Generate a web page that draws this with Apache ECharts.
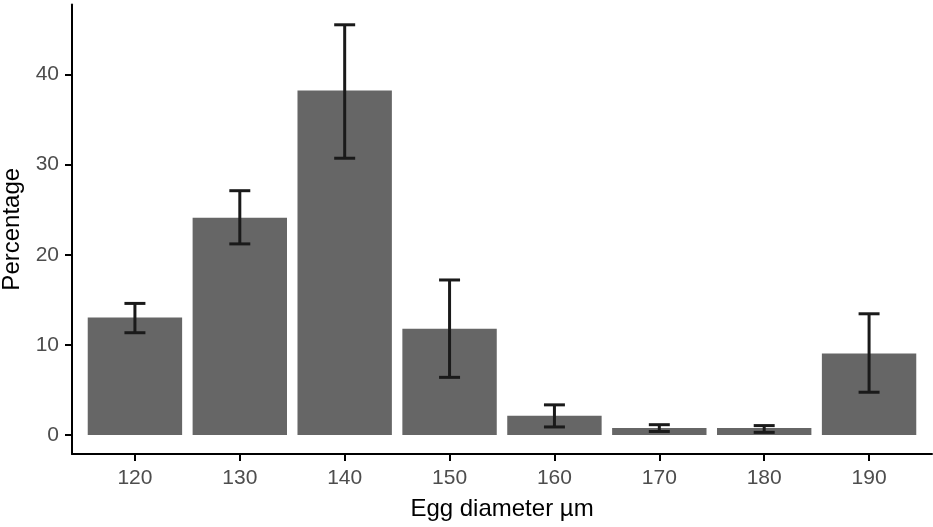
<!DOCTYPE html>
<html>
<head>
<meta charset="utf-8">
<script src="https://cdn.jsdelivr.net/npm/echarts@6/dist/echarts.min.js"></script>
<style>
  html, body { margin: 0; padding: 0; background: #fff; }
  #chart { width: 933px; height: 527px; }
</style>
</head>
<body>
<div id="chart"></div>
<script>
// egg diameter classes and the mean percentage with its error range
var categories = ['120', '130', '140', '150', '160', '170', '180', '190'];
var percentage = [13.05, 24.1, 38.2, 11.8, 2.15, 0.78, 0.78, 9.05];
var errLower = [11.35, 21.2, 30.7, 6.4, 0.9, 0.4, 0.3, 4.75];
var errUpper = [14.6, 27.1, 45.5, 17.2, 3.35, 1.15, 1.05, 13.45];
var yTicks = [0, 10, 20, 30, 40];

var xPos = categories.map(function (c, i) { return i + 1; });

var barData = xPos.map(function (x, i) { return [x, percentage[i]]; });
var errData = xPos.map(function (x, i) { return [x, errLower[i], errUpper[i]]; });

var myChart = echarts.init(document.getElementById('chart'));

var tickFont = { fontFamily: 'Liberation Sans', fontSize: 21, color: '#4d4d4d' };

var option = {
    backgroundColor: '#fff',
    animation: false,
    grid: { left: 72, right: 1, top: 4.5, bottom: 73, outerBoundsMode: 'none', containLabel: false },
    xAxis: {
        type: 'value',
        min: 0.4,
        max: 8.6,
        name: 'Egg diameter µm',
        nameLocation: 'middle',
        nameGap: 43,
        nameTextStyle: { fontFamily: 'Liberation Sans', fontSize: 24, color: '#000' },
        axisLine: { show: true, onZero: false, lineStyle: { color: '#000', width: 2 } },
        axisTick: { show: true, length: 7, customValues: xPos, lineStyle: { color: '#000', width: 2 } },
        axisLabel: {
            customValues: xPos,
            margin: 14,
            fontFamily: tickFont.fontFamily,
            fontSize: tickFont.fontSize,
            color: tickFont.color,
            formatter: function (v) { return categories[Math.round(v) - 1]; }
        },
        splitLine: { show: false }
    },
    yAxis: {
        type: 'value',
        min: -2.1,
        max: 47.75,
        name: 'Percentage',
        nameLocation: 'middle',
        nameGap: 46,
        nameTextStyle: { fontFamily: 'Liberation Sans', fontSize: 24, color: '#000' },
        axisLine: { show: true, onZero: false, lineStyle: { color: '#000', width: 2 } },
        axisTick: { show: true, length: 7, customValues: yTicks, lineStyle: { color: '#000', width: 2 } },
        axisLabel: {
            customValues: yTicks,
            margin: 13,
            fontFamily: tickFont.fontFamily,
            fontSize: tickFont.fontSize,
            color: tickFont.color
        },
        splitLine: { show: false }
    },
    series: [{
        name: 'Percentage',
        type: 'custom',
        data: barData,
        renderItem: function (params, api) {
            var x = api.value(0);
            var y = api.value(1);
            var p0 = api.coord([x - 0.45, y]);
            var p1 = api.coord([x + 0.45, 0]);
            return {
                type: 'rect',
                shape: { x: p0[0], y: p0[1], width: p1[0] - p0[0], height: p1[1] - p0[1] },
                style: { fill: '#666666' }
            };
        }
    }, {
        name: 'Error',
        type: 'custom',
        data: errData,
        z: 3,
        renderItem: function (params, api) {
            var x = api.value(0);
            var lo = api.coord([x, api.value(1)]);
            var hi = api.coord([x, api.value(2)]);
            var half = (api.coord([x + 0.1, 0])[0] - api.coord([x, 0])[0]);
            var st = { stroke: '#1a1a1a', lineWidth: 3 };
            return {
                type: 'group',
                children: [
                    { type: 'line', shape: { x1: lo[0], y1: lo[1], x2: hi[0], y2: hi[1] }, style: st },
                    { type: 'line', shape: { x1: hi[0] - half, y1: hi[1], x2: hi[0] + half, y2: hi[1] }, style: st },
                    { type: 'line', shape: { x1: lo[0] - half, y1: lo[1], x2: lo[0] + half, y2: lo[1] }, style: st }
                ]
            };
        }
    }]
};

myChart.setOption(option);
</script>
</body>
</html>
